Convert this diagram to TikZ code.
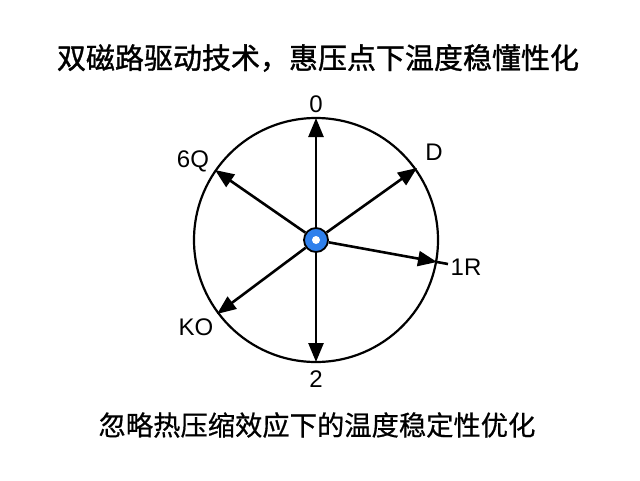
\documentclass[tikz,border=0pt]{standalone}
\usepackage{fontspec}
\setmainfont{Liberation Sans}
\newfontfamily\cjk[FakeBold=1.2]{Noto Sans CJK SC}
\newfontfamily\cjksub[FakeBold=0.6]{Noto Sans CJK SC}
\usetikzlibrary{arrows.meta}
\definecolor{dotblue}{HTML}{2F80EC}
\tikzset{
  arr/.style={line width=2.6pt, -{Triangle[length=19pt,width=15pt]}},
  lbl/.style={font=\fontsize{24}{26}\selectfont, inner sep=0pt},
  ttl/.style={font=\cjk\fontsize{29}{31}\selectfont, inner sep=0pt},
}
\begin{document}
\begin{tikzpicture}[x=1pt,y=-1pt]
\useasboundingbox[fill=white] (0,0) rectangle (640,480);
\node[ttl] (title) at (318,58) {双磁路驱动技术，惠压点下温度稳懂性化};
\node[ttl, font=\cjksub\fontsize{27.3}{29}\selectfont] (sub) at (317,425) {忽略热压缩效应下的温度稳定性优化};
\coordinate (o) at (316,240);
\draw[line width=2.2pt] (o) circle (122);
\coordinate (t0) at (316,118);
\coordinate (tD) at (417,168);
\coordinate (t6) at (215,170);
\coordinate (t1) at (437,262);
\coordinate (e1) at (448,264);
\coordinate (tK) at (217,314);
\coordinate (t2) at (316,362);
\node[circle, draw=black, line width=1.8pt, fill=dotblue, minimum size=24pt, inner sep=0pt] (c) at (o) {};
\node[circle, fill=white, minimum size=8pt, inner sep=0pt] (ci) at (o) {};
\draw[arr] (c) -- (t0);
\draw[arr] (c) -- (tD);
\draw[arr] (c) -- (t6);
\draw[arr] (c) -- (t1);
\draw[line width=2.6pt] (t1) -- (e1);
\draw[arr] (c) -- (tK);
\draw[arr] (c) -- (t2);
\node[lbl] (l0) at (316,104) {0};
\node[lbl] (lD) at (434,152) {D};
\node[lbl] (l6) at (193,161) {6Q};
\node[lbl] (l1) at (466,267) {1R};
\node[lbl] (lK) at (196,327) {KO};
\node[lbl] (l2) at (316,379) {2};
\end{tikzpicture}
\end{document}
